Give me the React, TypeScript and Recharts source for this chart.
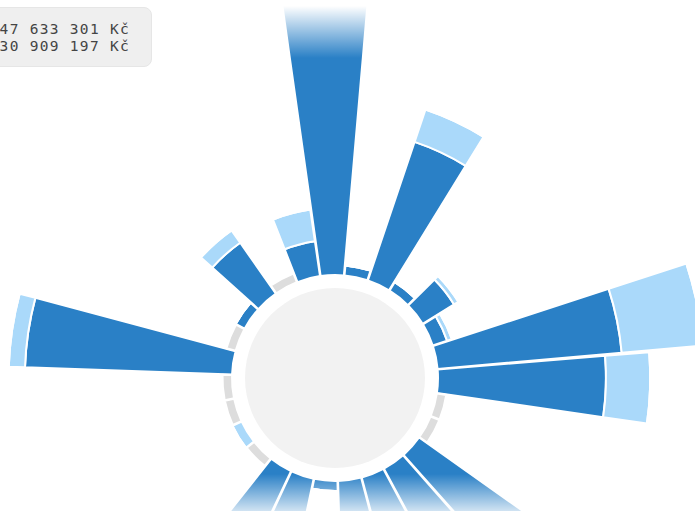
import { PolarAngleAxis, PolarRadiusAxis, RadialBar, RadialBarChart } from 'recharts';

// 27 budget chapters, clockwise from the top
const categories = [
  'K01', 'K02', 'K03', 'K04', 'K05', 'K06', 'K07', 'K08', 'K09',
  'K10', 'K11', 'K12', 'K13', 'K14', 'K15', 'K16', 'K17', 'K18',
  'K19', 'K20', 'K21', 'K22', 'K23', 'K24', 'K25', 'K26', 'K27',
];

// millions of Kč
const spent = [
  52, 1.8, 26.1, 1.8, 6.6, 2.7, 33, 30, 0,
  0, 40, 35.7, 30, 27, 1.8, 28.5, 34, 0,
  0, 0, 0, 37, 0, 1.8, 11.1, 0, 6.3,
];
const remaining = [
  0, 0, 6.1, 0, 0.9, 0.9, 14.6, 7.9, 0,
  0, 0, 0, 0, 0, 0, 0, 0, 0,
  1.8, 0, 0, 2.9, 0, 0, 2.7, 0, 5.7,
];
const empty = [
  0, 0, 0, 0, 0, 0, 0, 0, 1.7,
  1.7, 0, 0, 0, 0, 0, 0, 0, 1.7,
  0, 1.7, 1.7, 0, 1.7, 0, 0, 1.7, 0,
];

const tooltipLines = ['47 633 301 Kč', '30 909 197 Kč'];

const data = categories.map((name, i) => ({
  name,
  spent: spent[i],
  remaining: remaining[i],
  empty: empty[i],
}));

export default function App() {
  return (
    <div
      style={{
        position: 'fixed',
        top: 0,
        left: 0,
        width: 695,
        height: 511,
        overflow: 'hidden',
        background: '#fff',
      }}
    >
      <div
        style={{
          position: 'absolute',
          left: 335 - 90,
          top: 378 - 90,
          width: 180,
          height: 180,
          borderRadius: '50%',
          background: '#f2f2f2',
        }}
      />
      <div style={{ position: 'absolute', left: 0, top: 0 }}>
        <RadialBarChart
          width={695}
          height={511}
          data={data}
          layout="centric"
          cx={335}
          cy={378}
          innerRadius={103}
          outerRadius={439}
          startAngle={84.9}
          endAngle={-275.1}
          barCategoryGap="1%"
          margin={{ top: 0, right: 0, bottom: 0, left: 0 }}
        >
          <PolarAngleAxis type="category" dataKey="name" tick={false} axisLine={false} tickLine={false} />
          <PolarRadiusAxis type="number" domain={[0, 60]} tick={false} axisLine={false} tickLine={false} />
          <RadialBar dataKey="spent" stackId="a" fill="#2a80c6" stroke="#fff" strokeWidth={2} isAnimationActive={false} />
          <RadialBar dataKey="remaining" stackId="a" fill="#aad9fa" stroke="#fff" strokeWidth={2} isAnimationActive={false} />
          <RadialBar dataKey="empty" stackId="a" fill="#dddddd" stroke="#fff" strokeWidth={2} isAnimationActive={false} />
        </RadialBarChart>
      </div>
      {/* fade at the top and bottom edges */}
      <div
        style={{
          position: 'absolute',
          left: 0,
          top: 0,
          width: 695,
          height: 58,
          background: 'linear-gradient(to bottom, #fff 0px, #fff 6px, rgba(255,255,255,0) 58px)',
        }}
      />
      <div
        style={{
          position: 'absolute',
          left: 0,
          top: 474,
          width: 695,
          height: 37,
          background: 'linear-gradient(to bottom, rgba(255,255,255,0), rgba(255,255,255,0.78))',
        }}
      />
      <div
        style={{
          position: 'absolute',
          left: -70,
          top: 7,
          width: 222,
          height: 60,
          boxSizing: 'border-box',
          background: '#efefef',
          border: '1px solid #e6e6e6',
          borderRadius: 8,
          padding: '13px 21px 0 0',
          textAlign: 'right',
          fontFamily: '"DejaVu Sans Mono", monospace',
          fontSize: 14.5,
          letterSpacing: 1.3,
          lineHeight: '16.5px',
          color: '#444',
          whiteSpace: 'pre',
        }}
      >
        {tooltipLines.map((t) => (
          <div key={t}>{t}</div>
        ))}
      </div>
    </div>
  );
}
